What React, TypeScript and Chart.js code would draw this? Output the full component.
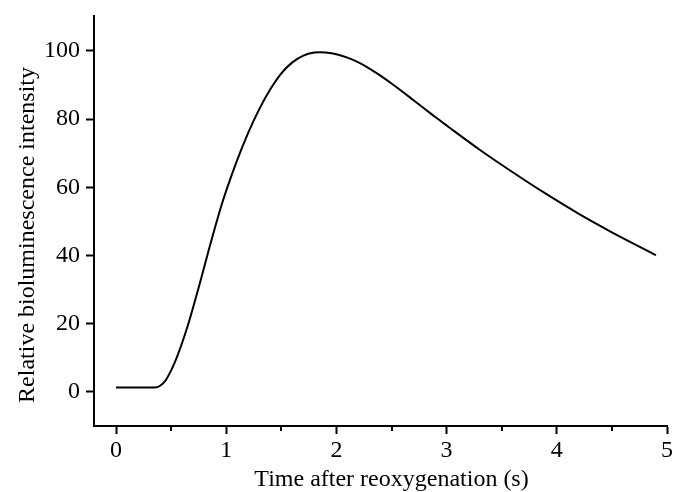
import React, { useEffect, useRef } from "react";
import { Chart, registerables } from "chart.js";

Chart.register(...registerables);

const timeS = [0, 0.35, 0.4, 0.45, 0.5, 0.55, 0.6, 0.65, 0.7, 0.75, 0.8, 0.85, 0.9, 0.95, 1.0, 1.1, 1.2, 1.3, 1.4, 1.5, 1.6, 1.7, 1.8, 1.85, 1.9, 2.0, 2.1, 2.2, 2.3, 2.4, 2.5, 2.6, 2.7, 2.8, 2.9, 3.0, 3.3, 3.6, 3.9, 4.2, 4.5, 4.9];
const intensity = [1.3, 1.3, 1.8, 3.4, 6.3, 10.0, 14.4, 19.3, 24.8, 30.6, 36.6, 42.6, 48.4, 54.0, 59.0, 68.0, 76.0, 82.9, 88.7, 93.4, 96.6, 98.6, 99.5, 99.6, 99.5, 99.0, 98.0, 96.6, 94.8, 92.7, 90.4, 88.0, 85.5, 83.0, 80.5, 78.1, 71.0, 64.4, 58.1, 52.2, 46.8, 40.1];
const xTickValues = [0, 1, 2, 3, 4, 5];
const xMinorTickValues = [0.5, 1.5, 2.5, 3.5, 4.5];
const yTickValues = [0, 20, 40, 60, 80, 100];
const xTitle = "Time after reoxygenation (s)";
const yTitle = "Relative bioluminescence intensity";

const FONT = '"Liberation Serif", "Times New Roman", serif';
const FONT_SIZE = 24;

export default function App() {
  const ref = useRef<HTMLCanvasElement | null>(null);
  useEffect(() => {
    document.body.style.margin = "0";
    if (!ref.current) return;
    const titlePlugin = {
      id: "axisTitlesAndMinor",
      afterDraw(chart: any) {
        const { ctx, scales } = chart;
        const xs = scales.x;
        const ys = scales.y;
        ctx.save();
        ctx.strokeStyle = "#000";
        ctx.lineWidth = 2;
        for (const v of xMinorTickValues) {
          const px = Math.round(xs.getPixelForValue(v));
          ctx.beginPath();
          ctx.moveTo(px, ys.bottom);
          ctx.lineTo(px, ys.bottom + 5);
          ctx.stroke();
        }
        ctx.fillStyle = "#000";
        ctx.font = `${FONT_SIZE}px ${FONT}`;
        ctx.textAlign = "center";
        ctx.textBaseline = "middle";
        ctx.fillText(xTitle, xs.getPixelForValue(2.5), 480);
        ctx.translate(28, ys.getPixelForValue(46));
        ctx.rotate(-Math.PI / 2);
        ctx.fillText(yTitle, 0, 0);
        ctx.restore();
      },
    };
    const chart = new Chart(ref.current, {
      type: "line",
      data: {
        datasets: [
          {
            data: timeS.map((t, i) => ({ x: t, y: intensity[i] })),
            borderColor: "#000",
            borderWidth: 2,
            pointRadius: 0,
            fill: false,
            cubicInterpolationMode: "monotone",
          },
        ],
      },
      options: {
        animation: false,
        responsive: true,
        maintainAspectRatio: false,
        layout: { padding: { left: 0, right: 15, top: 16, bottom: 0 } },
        plugins: { legend: { display: false }, tooltip: { enabled: false } },
        scales: {
          x: {
            type: "linear",
            min: -0.2,
            max: 5,
            afterBuildTicks: (s: any) => {
              s.ticks = xTickValues.map((v) => ({ value: v }));
            },
            afterFit: (s: any) => {
              s.height = 66;
              s.paddingLeft = 0;
              s.paddingRight = 0;
            },
            border: { display: true, color: "#000", width: 2 },
            grid: {
              drawOnChartArea: false,
              drawTicks: true,
              tickLength: 8,
              tickWidth: 2,
              tickColor: "#000",
            },
            ticks: {
              autoSkip: false,
              maxRotation: 0,
              padding: 2,
              color: "#000",
              font: { family: FONT, size: FONT_SIZE },
              callback: (v: any) => String(v),
            },
          },
          y: {
            type: "linear",
            min: -10,
            max: 110.2,
            afterBuildTicks: (s: any) => {
              s.ticks = yTickValues.map((v) => ({ value: v }));
            },
            afterFit: (s: any) => {
              s.width = 94;
              s.paddingTop = 0;
              s.paddingBottom = 0;
            },
            border: { display: true, color: "#000", width: 2 },
            grid: {
              drawOnChartArea: false,
              drawTicks: true,
              tickLength: 8,
              tickWidth: 2,
              tickColor: "#000",
            },
            ticks: {
              autoSkip: false,
              padding: 6,
              color: "#000",
              font: { family: FONT, size: FONT_SIZE },
              callback: (v: any) => String(v),
            },
          },
        },
      },
      plugins: [titlePlugin],
    });
    return () => chart.destroy();
  }, []);
  return (
    <div style={{ width: 682, height: 492, position: "relative" }}>
      <canvas ref={ref} />
    </div>
  );
}
